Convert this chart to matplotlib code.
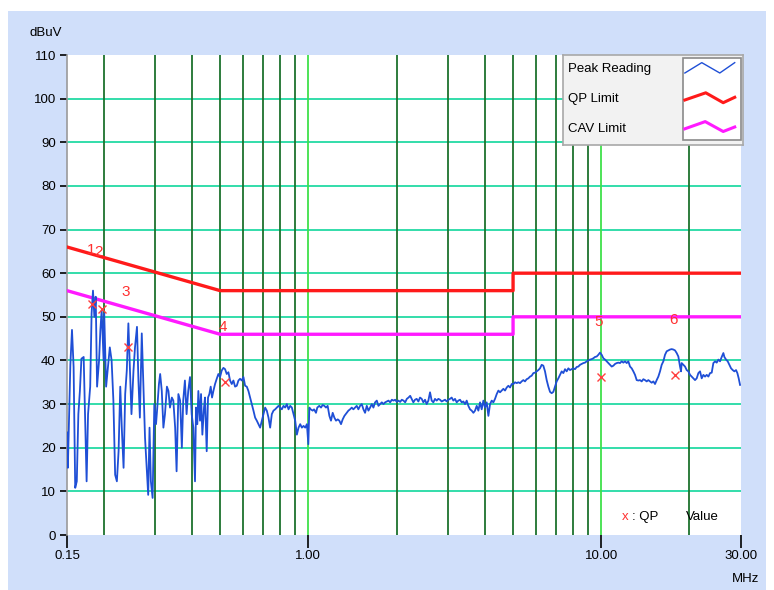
import matplotlib
matplotlib.use('Agg')
import matplotlib.pyplot as plt
from matplotlib.patches import Rectangle

plt.rcParams['font.family'] = ['Liberation Sans', 'DejaVu Sans']

# peak reading trace, frequency in MHz and level in dBuV
peak_freq = [
    0.150, 0.151, 0.154, 0.156, 0.158, 0.160, 0.162, 0.164, 0.166, 0.168,
    0.171, 0.173, 0.175, 0.177, 0.180, 0.182, 0.184, 0.186, 0.188, 0.190,
    0.193, 0.195, 0.197, 0.200, 0.201, 0.204, 0.208, 0.210, 0.213, 0.216,
    0.219, 0.222, 0.225, 0.228, 0.231, 0.234, 0.237, 0.240, 0.243, 0.246,
    0.249, 0.253, 0.256, 0.260, 0.263, 0.266, 0.270, 0.273, 0.277, 0.281,
    0.284, 0.287, 0.290, 0.294, 0.298, 0.302, 0.305, 0.309, 0.312, 0.316,
    0.320, 0.324, 0.329, 0.333, 0.337, 0.342, 0.346, 0.351, 0.355, 0.360,
    0.365, 0.370, 0.374, 0.379, 0.384, 0.389,
    0.3945, 0.3997, 0.4050, 0.4103, 0.4135, 0.4179, 0.4212, 0.4268, 0.4302, 0.4347,
    0.4404, 0.4439, 0.4498, 0.4545, 0.4593, 0.4642, 0.4691, 0.4741, 0.4803, 0.4867,
    0.4931, 0.4996, 0.5062, 0.5129, 0.5197, 0.5265, 0.5335, 0.5405, 0.5477, 0.5549,
    0.5622, 0.5697, 0.5772, 0.5848, 0.5926, 0.6004, 0.6083, 0.6164, 0.6245, 0.6328,
    0.6411, 0.6496, 0.6582, 0.6669, 0.6757, 0.6846, 0.6937, 0.7028, 0.7121, 0.7215,
    0.7311, 0.7407, 0.7505, 0.7604, 0.7705, 0.7807, 0.7910, 0.8014, 0.8120, 0.8227,
    0.8336, 0.8446, 0.8558, 0.8671, 0.8785, 0.8901, 0.9019, 0.9138, 0.9259, 0.9381,
    0.9505, 0.9631, 0.9758, 0.9887,
    1.000, 1.008, 1.019, 1.035, 1.046, 1.062, 1.073, 1.090, 1.105, 1.119,
    1.134, 1.149, 1.164, 1.180, 1.195, 1.211, 1.227, 1.243, 1.260, 1.276,
    1.293, 1.310, 1.328, 1.352, 1.370, 1.388, 1.407, 1.425, 1.444, 1.463,
    1.482, 1.502, 1.522, 1.542, 1.562, 1.583, 1.604, 1.625, 1.647, 1.668,
    1.690, 1.713, 1.735, 1.758, 1.782, 1.805, 1.829, 1.853, 1.878, 1.902,
    1.928, 1.953, 1.979, 2.005, 2.031, 2.058, 2.085, 2.113, 2.141, 2.169,
    2.198, 2.227,
    2.253, 2.283, 2.313, 2.344, 2.375, 2.406, 2.438, 2.470, 2.503, 2.535,
    2.569, 2.603, 2.637, 2.672, 2.707, 2.743, 2.779, 2.816, 2.853, 2.891,
    2.929, 2.967, 3.006, 3.046, 3.086, 3.127, 3.168, 3.210, 3.252, 3.295,
    3.339, 3.383, 3.428, 3.473, 3.518, 3.565, 3.612, 3.660, 3.708, 3.757,
    3.806, 3.857, 3.907, 3.959, 4.011, 4.064, 4.118, 4.172, 4.227, 4.283,
    4.339, 4.397, 4.455, 4.513, 4.573, 4.633, 4.694, 4.756, 4.819, 4.883,
    4.947, 5.012, 5.078, 5.145, 5.213,
    5.280, 5.350, 5.420, 5.492, 5.564, 5.638, 5.712, 5.787, 5.864, 5.941,
    6.019, 6.099, 6.179, 6.261, 6.343, 6.427, 6.512, 6.598, 6.685, 6.773,
    6.862, 6.953, 7.044, 7.138, 7.232, 7.327, 7.424, 7.522, 7.621, 7.721,
    7.823, 7.926, 8.031, 8.137, 8.244, 8.353, 8.463, 8.575, 8.688, 8.802,
    8.919, 9.036, 9.156, 9.276, 9.399, 9.523, 9.648, 9.776, 9.905, 10.035,
    10.168, 10.302, 10.437, 10.576, 10.715, 10.856, 11.000, 11.145, 11.292, 11.441,
    11.591, 11.744, 11.899, 12.056, 12.215, 12.376,
    12.538, 12.703, 12.871, 13.040, 13.213, 13.386, 13.563, 13.742, 13.923, 14.107,
    14.293, 14.482, 14.673, 14.866, 15.062, 15.261, 15.462, 15.666, 15.873, 16.082,
    16.294, 16.509, 16.727, 16.948, 17.172, 17.398, 17.627, 17.860, 18.095, 18.334,
    18.576, 18.722, 18.821, 19.070, 19.322, 19.576, 19.834, 20.096, 20.361, 20.630,
    20.901, 21.177, 21.457, 21.741, 22.027, 22.318, 22.612, 22.910, 23.212, 23.518,
    23.829, 24.143, 24.462, 24.784, 25.112, 25.442, 25.778, 26.118, 26.326, 26.673,
    27.026, 27.382, 27.743, 28.107, 28.478, 28.852, 29.156, 29.463, 29.775,
]
peak_level = [
    23.5, 15.4, 39.0, 47.0, 38.5, 10.8, 12.3, 27.7, 33.0, 40.4,
    40.8, 26.0, 12.3, 27.7, 34.0, 50.8, 56.0, 50.0, 54.6, 34.0,
    40.0, 47.0, 51.5, 40.0, 50.8, 34.0, 40.0, 43.0, 40.0, 30.8,
    13.8, 12.3, 19.2, 34.0, 23.8, 15.4, 32.3, 37.7, 48.5, 37.7,
    27.7, 37.7, 43.0, 47.7, 35.4, 26.9, 46.2, 36.2, 22.3, 14.6,
    9.2, 24.6, 12.3, 8.5, 30.0, 25.4, 29.2, 34.6, 36.9, 33.0,
    24.6, 27.7, 34.0, 33.0, 29.2, 31.5, 30.8, 24.6, 14.6, 32.3,
    30.8, 20.0, 30.8, 35.4, 27.7, 33.0,
    36.2, 27.7, 24.6, 12.3, 29.2, 25.4, 33.0, 26.2, 32.3, 23.0,
    29.2, 31.5, 19.2, 31.5, 32.3, 34.0, 31.5, 33.0, 34.6, 35.8,
    36.9, 36.2, 37.7, 38.3, 38.0, 36.9, 37.3, 35.4, 34.6, 35.4,
    34.0, 34.2, 35.4, 35.8, 35.4, 36.2, 34.2, 34.0, 33.0, 31.5,
    30.0, 28.5, 26.9, 26.2, 25.4, 24.6, 26.2, 27.7, 29.2, 28.5,
    26.9, 24.6, 27.7, 28.5, 28.8, 29.2, 29.6, 29.2, 28.8, 29.6,
    29.2, 30.0, 28.8, 29.6, 29.2, 27.7, 26.2, 23.0, 24.6, 25.4,
    24.6, 25.0, 24.6, 25.4,
    20.8, 29.2, 28.8, 28.5, 28.8, 28.0, 29.2, 29.6, 29.2, 29.8,
    29.6, 29.2, 29.6, 27.3, 26.2, 28.0, 26.9, 26.2, 26.5, 26.2,
    25.4, 26.5, 27.3, 28.0, 28.5, 28.8, 29.2, 28.8, 29.2, 29.6,
    28.8, 29.6, 30.0, 28.8, 28.0, 29.6, 28.5, 29.2, 30.0, 29.2,
    30.4, 30.8, 29.6, 30.0, 30.4, 30.0, 30.4, 30.6, 30.8, 30.4,
    31.0, 30.8, 31.0, 30.5, 30.8, 30.5, 31.0, 30.8, 30.4, 31.2,
    31.5, 31.9,
    31.2, 30.4, 31.0, 31.2, 30.6, 31.5, 31.2, 30.4, 31.0, 30.0,
    30.8, 32.7, 30.8, 30.4, 31.2, 30.8, 31.2, 31.0, 30.6, 30.8,
    31.0, 30.6, 31.0, 31.2, 31.5, 30.8, 31.2, 30.4, 30.8, 31.0,
    30.4, 30.6, 30.0, 30.8, 29.6, 28.8, 28.5, 28.0, 28.5, 29.6,
    28.5, 30.4, 28.8, 30.8, 29.2, 30.4, 27.3, 30.0, 30.8, 30.4,
    31.2, 32.3, 33.1, 32.7, 33.1, 33.5, 33.1, 33.8, 34.2, 33.8,
    34.6, 34.6, 35.0, 34.8, 35.0,
    34.8, 35.2, 35.5, 35.2, 35.7, 35.9, 36.3, 36.5, 37.1, 37.2,
    37.5, 37.8, 38.2, 39.0, 38.8, 37.5, 35.5, 34.0, 32.8, 32.5,
    32.8, 34.0, 35.2, 35.9, 36.7, 37.5, 37.1, 38.0, 37.5, 38.2,
    37.8, 38.0, 38.2, 38.0, 38.5, 38.6, 39.0, 39.2, 39.4, 39.5,
    39.8, 40.0, 40.2, 40.3, 40.5, 40.8, 40.9, 41.3, 41.8, 41.3,
    40.5, 40.2, 39.8, 39.4, 39.0, 38.6, 38.8, 39.2, 39.4, 39.5,
    39.4, 39.8, 39.5, 39.8, 39.4, 39.8,
    38.6, 38.2, 37.5, 36.7, 35.5, 35.4, 35.5, 35.2, 35.7, 35.5,
    35.2, 35.5, 35.2, 34.9, 35.2, 34.6, 35.5, 36.3, 37.5, 39.0,
    39.8, 41.3, 42.1, 42.3, 42.5, 42.6, 42.5, 42.3, 41.7, 40.9,
    38.6, 37.5, 39.4, 39.0, 38.6, 37.8, 37.5, 36.7, 36.3, 35.9,
    35.5, 35.9, 37.1, 37.5, 35.9, 36.7, 36.3, 36.7, 36.3, 37.1,
    37.2, 39.4, 39.8, 39.5, 40.2, 39.8, 40.8, 41.7, 40.8, 40.2,
    39.8, 39.0, 38.2, 37.8, 37.5, 37.8, 37.1, 35.9, 34.4,
]

# limit lines
limit_freq = [0.15, 0.5, 5.0, 5.0, 30.0]
qp_limit = [66, 56, 56, 60, 60]
cav_limit = [56, 46, 46, 50, 50]

# quasi-peak measurement points
qp_freq = [0.182, 0.197, 0.243, 0.519, 9.96, 17.9]
qp_value = [52.9, 51.8, 43.0, 35.1, 36.3, 36.7]
qp_names = ['1', '2', '3', '4', '5', '6']
qp_name_freq = [0.181, 0.192, 0.2385, 0.510, 9.83, 17.6]
qp_name_level = [65.3, 64.8, 55.7, 47.7, 48.8, 49.3]

y_ticks = list(range(0, 111, 10))
x_ticks = [0.15, 1.0, 10.0, 30.0]
x_tick_labels = ['0.15', '1.00', '10.00', '30.00']
dark_grid_freq = [0.2, 0.3, 0.4, 0.5, 0.6, 0.7, 0.8, 0.9,
                  2, 3, 4, 5, 6, 7, 8, 9, 20]
light_grid_freq = [1, 10]

legend_names = ['Peak Reading', 'QP Limit', 'CAV Limit']

blue = '#1F4FD6'
red = '#FF1A1A'
magenta = '#FF1AFF'
panel = '#D0DFFA'

fig = plt.figure(figsize=(7.74, 5.90), dpi=100, facecolor='white')
fig.patches.append(Rectangle((8 / 774, 0), 758 / 774, 579 / 590,
                             transform=fig.transFigure, facecolor=panel,
                             edgecolor='none', zorder=-10))

ax = fig.add_axes([67 / 774, 55 / 590, 674 / 774, 480 / 590])
ax.set_facecolor('white')
ax.set_xscale('log')
ax.set_xlim(0.15, 30)
ax.set_ylim(0, 110)

for y in y_ticks[1:-1]:
    ax.axhline(y, color='#33DDAA', lw=1.4, zorder=1)
for f in dark_grid_freq:
    ax.axvline(f, color='#1C722D', lw=1.3, zorder=2)
for f in light_grid_freq:
    ax.axvline(f, color='#3FE04A', lw=1.3, zorder=2)

ax.plot(limit_freq, qp_limit, color=red, lw=2.4, zorder=3)
ax.plot(limit_freq, cav_limit, color=magenta, lw=2.4, zorder=3)
ax.plot(peak_freq, peak_level, color=blue, lw=1.3, zorder=4)
ax.plot(qp_freq, qp_value, ls='none', marker='x', ms=5.5, mew=1.0,
        color='#FF4040', zorder=5)
for name, f, lv in zip(qp_names, qp_name_freq, qp_name_level):
    ax.text(f, lv, name, color='#FF3030', fontsize=11, ha='center',
            va='center', zorder=6)

for side in ['top', 'right', 'bottom']:
    ax.spines[side].set_visible(False)
ax.spines['left'].set_color('#9A9A9A')
ax.spines['left'].set_linewidth(1.2)

ax.set_yticks(y_ticks)
ax.set_yticklabels([str(v) for v in y_ticks])
ax.set_xticks(x_ticks)
ax.set_xticklabels(x_tick_labels)
ax.xaxis.set_minor_locator(plt.NullLocator())
ax.tick_params(axis='y', length=5, width=1.2, color='black', pad=3,
               labelsize=9.5)
ax.tick_params(axis='x', length=9, width=1.2, color='black', pad=2,
               labelsize=9.5)

# point legend in the lower right corner
ax.text(0.828, 0.037, 'x', color='#FF3030', fontsize=9.5, ha='center',
        va='center', transform=ax.transAxes, zorder=6)
ax.text(0.839, 0.037, ': QP', color='black', fontsize=9.5, ha='left',
        va='center', transform=ax.transAxes, zorder=6)
ax.text(0.918, 0.037, 'Value', color='black', fontsize=9.5, ha='left',
        va='center', transform=ax.transAxes, zorder=6)

fig.text(46 / 774, 1 - 33 / 590, 'dBuV', fontsize=9.5, ha='center', va='center')
fig.text(746 / 774, 1 - 579 / 590, 'MHz', fontsize=9.5, ha='center', va='center')

# legend box
lg = fig.add_axes([563 / 774, 1 - 145 / 590, 180 / 774, 90 / 590])
lg.set_xlim(0, 1)
lg.set_ylim(0, 1)
lg.set_xticks([])
lg.set_yticks([])
lg.set_facecolor('#F2F2F2')
for s in lg.spines.values():
    s.set_color('#A8A8A8')
    s.set_linewidth(1.2)
lg.add_patch(Rectangle((0.664, 0.055), 0.325, 0.91, facecolor='white',
                       edgecolor='#8A8A8A', lw=1.2))
for name, yy in zip(legend_names, [0.84, 0.51, 0.18]):
    lg.text(0.03, yy, name, fontsize=9.5, ha='left', va='center')
lg.plot([0.677, 0.771, 0.871, 0.954], [0.80, 0.915, 0.80, 0.915],
        color=blue, lw=1.0)
lg.plot([0.677, 0.793, 0.890, 0.954], [0.50, 0.58, 0.47, 0.53],
        color=red, lw=2.2)
lg.plot([0.677, 0.790, 0.890, 0.954], [0.18, 0.26, 0.15, 0.20],
        color=magenta, lw=2.2)

fig.savefig('out.png', dpi=100, facecolor='white')
